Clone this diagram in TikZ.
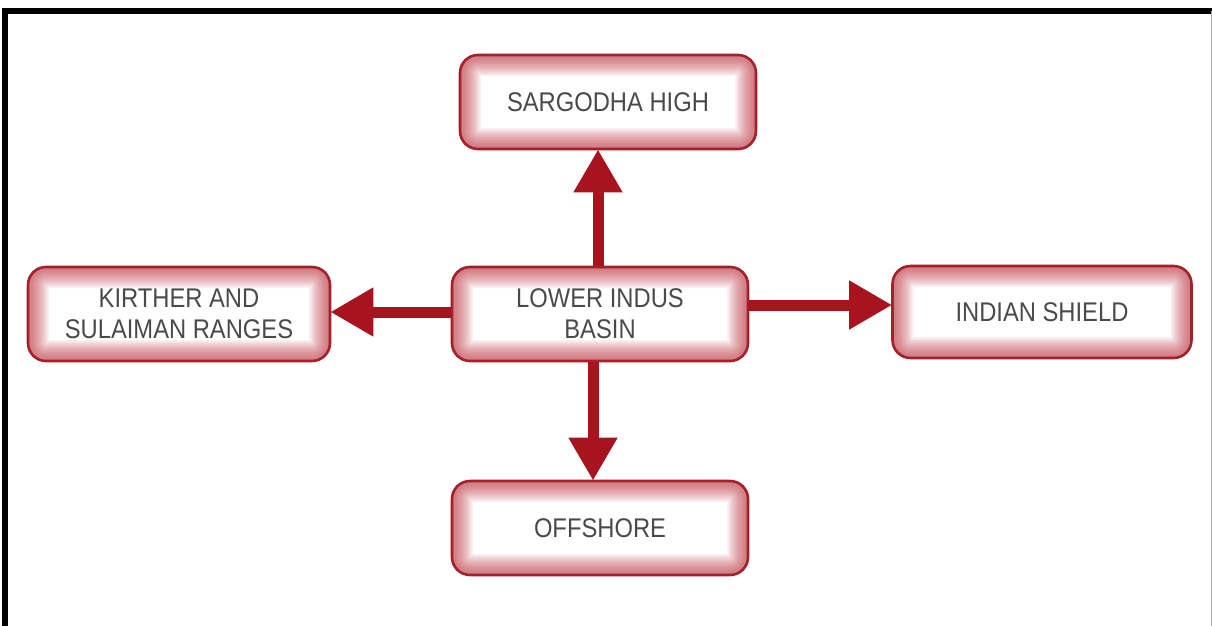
\documentclass[tikz,border=0pt]{standalone}
\usepackage{fontspec}
\setmainfont[FakeStretch=0.88]{Liberation Sans}
\usetikzlibrary{arrows.meta}
\definecolor{boxred}{HTML}{A3212B}
\definecolor{rim}{HTML}{C23A46}
\definecolor{arrred}{HTML}{A8141E}
\definecolor{textgray}{HTML}{4A4A4A}
\tikzset{
  box/.style={draw=boxred, line width=2.6pt, rounded corners=18pt,
    minimum width=296pt, minimum height=94pt, align=center, text=textgray,
    font=\fontsize{27}{31}\selectfont, fill=white, inner sep=0pt,
    path picture={
      \foreach \w in {3,6,...,42}{
        \draw[rim, line width=\w pt, opacity=0.075, rounded corners=18pt]
          (path picture bounding box.south west) rectangle (path picture bounding box.north east);
      }
    }},
  arr/.style={draw=arrred, line width=11pt,
    -{Triangle[length=43pt, width=46pt]}, shorten >=-1pt}
}
\begin{document}
\begin{tikzpicture}[x=1pt, y=-1pt]
\useasboundingbox (0,0) rectangle (1212,626);
\fill[white] (0,0) rectangle (1212,626);
% frame
\draw[line width=6pt, black] (4.5,640) -- (4.5,11.5) -- (1212,11.5);
\draw[line width=1pt, black!35] (1211,11.5) -- (1211,626);
% boxes
\node[box] (sargodha) at (608,102) {SARGODHA HIGH};
\node[box] (lower) at (600,314) {LOWER INDUS\\BASIN};
\node[box, minimum width=302pt] (kirther) at (179,314) {KIRTHER AND\\SULAIMAN RANGES};
\node[box, minimum width=299pt, minimum height=92pt] (indian) at (1042,312) {INDIAN SHIELD};
\node[box] (offshore) at (600,528) {OFFSHORE};
% arrows
\draw[arr] ([xshift=-2pt]lower.north) -- ([xshift=-2pt]lower.north |- sargodha.south);
\draw[arr] ([xshift=-7pt]lower.south) -- ([xshift=-7pt]lower.south |- offshore.north);
\draw[arr] ([yshift=2pt]lower.west) -- ([yshift=2pt]lower.west -| kirther.east);
\draw[arr] ([yshift=9pt]lower.east) -- ([yshift=9pt]lower.east -| indian.west);
\end{tikzpicture}
\end{document}
